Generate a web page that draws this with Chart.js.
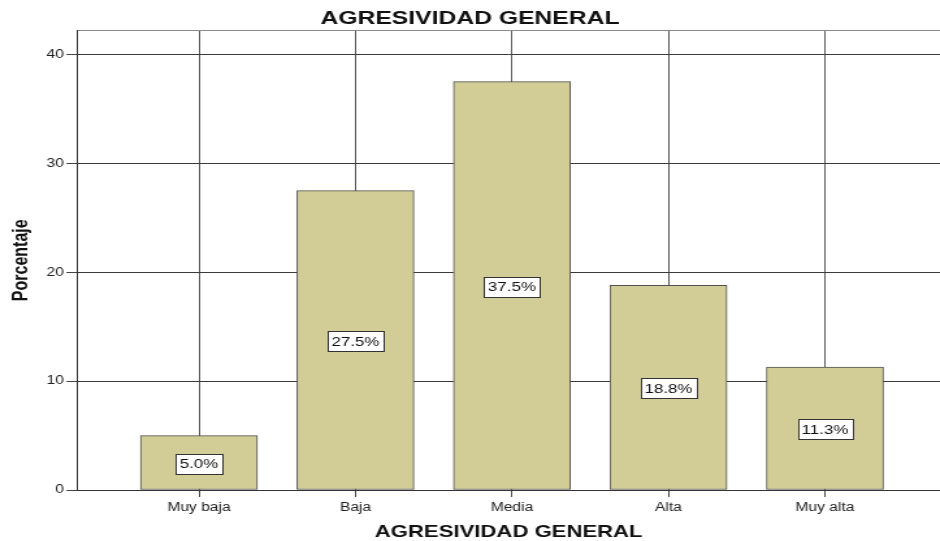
<!DOCTYPE html>
<html>
<head>
<meta charset="utf-8">
<script src="https://cdn.jsdelivr.net/npm/chart.js@4"></script>
<style>
  html, body { margin:0; padding:0; background:#fff; }
  #wrap { width:940px; height:541px; overflow:hidden; }
  /* the reference is a horizontally stretched SPSS export, so stretch the canvas the same way */
  #chart { transform: scaleX(1.3001); transform-origin: 0 0; }
</style>
</head>
<body>
<div id="wrap"><canvas id="chart" width="723" height="541"></canvas></div>
<script>
// data
const categories = ['Muy baja', 'Baja', 'Media', 'Alta', 'Muy alta'];
const percents = [5.0, 27.5, 37.5, 18.8, 11.3];
const yTicks = [0, 10, 20, 30, 40];

const FONT = "'Liberation Sans', Arial, sans-serif";
const yMax = 42.2;

// white boxed % labels in the middle of each bar
const barLabels = {
  id: 'barLabels',
  afterDatasetsDraw(chart) {
    const ctx = chart.ctx;
    const meta = chart.getDatasetMeta(0);
    ctx.save();
    ctx.font = '13px ' + FONT;
    ctx.textAlign = 'center';
    ctx.textBaseline = 'middle';
    meta.data.forEach((bar, i) => {
      const txt = percents[i].toFixed(1) + '%';
      const w = ctx.measureText(txt).width + 6;
      const h = 20;
      const cx = bar.x;
      const cy = (bar.y + bar.base) / 2 + 1;
      ctx.fillStyle = '#fff';
      ctx.fillRect(Math.round(cx - w / 2) + 0.5, Math.round(cy - h / 2) + 0.5, Math.round(w), h);
      ctx.strokeStyle = '#333';
      ctx.lineWidth = 1;
      ctx.strokeRect(Math.round(cx - w / 2) + 0.5, Math.round(cy - h / 2) + 0.5, Math.round(w), h);
      ctx.fillStyle = '#111';
      ctx.fillText(txt, cx, cy + 1);
    });
    ctx.restore();
  }
};

new Chart(document.getElementById('chart'), {
  type: 'bar',
  data: {
    datasets: [{
      data: categories.map((c, i) => ({ x: i, y: percents[i] })),
      backgroundColor: '#d2cd97',
      borderColor: '#505050',
      borderWidth: 1,
      borderSkipped: false,
      barThickness: 90
    }]
  },
  options: {
    responsive: false,
    animation: false,
    devicePixelRatio: 1,
    layout: { padding: 0 },
    plugins: {
      legend: { display: false },
      tooltip: { enabled: false },
      title: {
        display: true,
        text: 'AGRESIVIDAD GENERAL',
        color: '#111',
        font: { family: FONT, size: 19, weight: 'bold', lineHeight: 1 },
        padding: { top: 9, bottom: 2.5 }
      }
    },
    scales: {
      x: {
        type: 'linear',
        min: -0.776,
        max: 4.735,
        offset: false,
        afterBuildTicks: s => { s.ticks = categories.map((c, i) => ({ value: i })); },
        afterFit: s => { s.height = 51; },
        ticks: {
          autoSkip: false,
          maxRotation: 0,
          padding: 3,
          color: '#222',
          font: { family: FONT, size: 12 },
          callback: v => categories[v] ?? ''
        },
        grid: { offset: false, color: '#555', lineWidth: 1, tickLength: 7, tickColor: '#444' },
        border: { color: '#333', width: 1 },
        title: {
          display: true,
          text: 'AGRESIVIDAD GENERAL',
          color: '#111',
          font: { family: FONT, size: 17, weight: 'bold', lineHeight: 1 },
          padding: { top: 0, bottom: 0 }
        }
      },
      y: {
        min: 0,
        max: yMax,
        afterBuildTicks: s => { s.ticks = yTicks.concat([yMax]).map(v => ({ value: v })); },
        afterFit: s => { s.width = 59.6; },
        ticks: {
          padding: 2,
          color: '#222',
          font: { family: FONT, size: 12 },
          callback: v => (v > 40 ? '' : v)
        },
        grid: {
          color: c => (c.tick && c.tick.value > 40 ? '#8a8a8a' : '#3a3a3a'),
          tickColor: c => (c.tick && c.tick.value > 40 ? 'rgba(0,0,0,0)' : '#444'),
          lineWidth: 1,
          tickLength: 8.5
        },
        border: { color: '#333', width: 1 },
        title: {
          display: true,
          text: 'Porcentaje',
          color: '#111',
          font: { family: FONT, size: 16, weight: 'bold', lineHeight: 1.2 },
          padding: { top: 7, bottom: 0 }
        }
      }
    }
  },
  plugins: [barLabels]
});
</script>
</body>
</html>
